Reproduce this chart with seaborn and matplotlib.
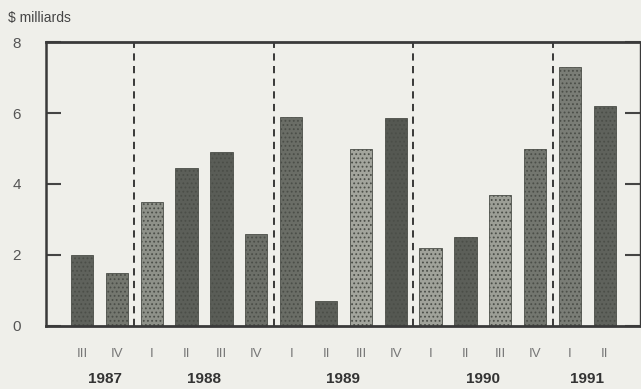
import pandas as pd
import matplotlib
matplotlib.use("Agg")
import matplotlib.pyplot as plt
import seaborn as sns

quarters = ["III", "IV", "I", "II", "III", "IV", "I", "II", "III", "IV",
            "I", "II", "III", "IV", "I", "II"]
years = ["1987", "1987", "1988", "1988", "1988", "1988", "1989", "1989", "1989", "1989",
         "1990", "1990", "1990", "1990", "1991", "1991"]
values = [2.0, 1.5, 3.5, 4.45, 4.9, 2.6, 5.9, 0.7, 5.0, 5.85,
          2.2, 2.5, 3.7, 5.0, 7.3, 6.2]

year_labels = ["1987", "1988", "1989", "1990", "1991"]
y_ticks = [0, 2, 4, 6, 8]

bar_colors = ["#5f625c", "#74776f", "#8e9189", "#5c5f59", "#5a5d57", "#6c6f68",
              "#6a6d66", "#5c5f59", "#a3a59d", "#555852",
              "#a0a29a", "#5c5f59", "#9c9e96", "#73766f", "#7a7d76", "#5f625c"]

df = pd.DataFrame({"pos": [str(i) for i in range(len(values))],
                   "quarter": quarters, "year": years, "value": values})

sns.set_style("white")
plt.rcParams["font.family"] = ["Liberation Sans", "DejaVu Sans"]
plt.rcParams["hatch.color"] = "#c9cbc3"
plt.rcParams["hatch.linewidth"] = 0.8

fig = plt.figure(figsize=(6.41, 3.89), dpi=100, facecolor="#efefea")
ax = fig.add_axes([0.072, 0.162, 0.926, 0.73])
ax.set_facecolor("#efefea")

sns.barplot(data=df, x="pos", y="value", hue="pos", palette=bar_colors,
            legend=False, width=0.64, ax=ax, saturation=1)
for p in ax.patches:
    p.set_hatch("....")
    p.set_edgecolor("#4b4e48")
    p.set_linewidth(0.6)

ax.set_xlim(-1.03, 16.0)
ax.set_ylim(0, 8)

for xb in [1.5, 5.5, 9.5, 13.5]:
    ax.axvline(xb, ymin=0, ymax=1, color="#2a2a2a", linestyle=(0, (4, 3)), linewidth=1.3)

ax.set_yticks(y_ticks)
ax.set_yticklabels([str(t) for t in y_ticks], fontsize=11, color="#555555")
ax.tick_params(axis="y", direction="in", length=11, width=1.5, color="#444444", pad=18,
               left=True, right=True)
ax.set_xticks(range(len(quarters)))
ax.set_xticklabels(quarters, fontsize=9.5, color="#777777")
ax.tick_params(axis="x", length=0, pad=16)
ax.set_xlabel("")
ax.set_ylabel("")

for side in ["left", "top", "bottom", "right"]:
    ax.spines[side].set_color("#3a3a3a")
ax.spines["left"].set_linewidth(1.8)
ax.spines["top"].set_linewidth(2.0)
ax.spines["bottom"].set_linewidth(2.0)
ax.spines["right"].set_linewidth(1.0)

# year labels under each group
for yr in year_labels:
    idx = [i for i, y in enumerate(years) if y == yr]
    center = sum(idx) / len(idx)
    if yr == "1987":
        center += 0.15
    ax.text(center, -1.5, yr, ha="center", va="center", fontsize=11,
            fontweight="bold", color="#333333")

fig.text(0.012, 0.955, "$ milliards", fontsize=10, color="#444444", ha="left", va="center")

plt.savefig("out.png", dpi=100, facecolor=fig.get_facecolor())
